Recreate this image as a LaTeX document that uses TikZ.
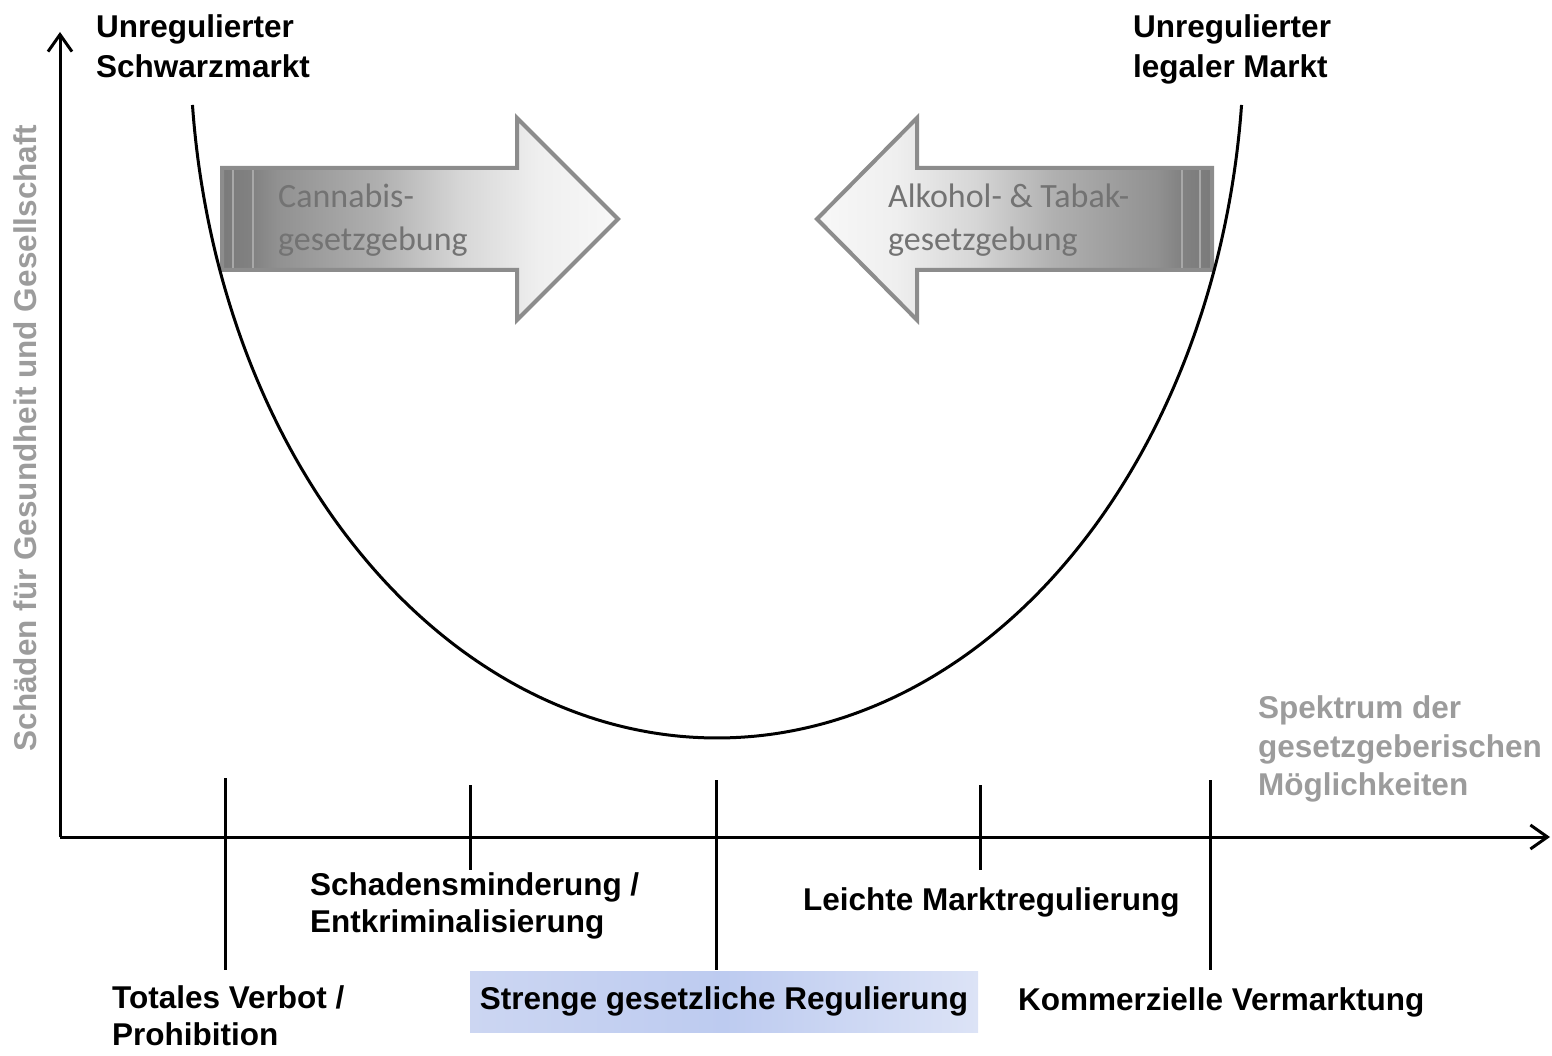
\documentclass[tikz,border=0pt]{standalone}
\usepackage{fontspec}
\setmainfont{Liberation Sans}
\newfontfamily\calib{Carlito}
\usetikzlibrary{arrows.meta}
\definecolor{arrline}{HTML}{8C8C8C}
\definecolor{arrtxt}{HTML}{737373}
\definecolor{axgray}{HTML}{9C9C9C}
\definecolor{stripe}{HTML}{A8A8A8}
\definecolor{ga}{HTML}{7A7A7A}
\definecolor{gb}{HTML}{828282}
\definecolor{gc}{HTML}{919191}
\definecolor{gd}{HTML}{B0B0B0}
\definecolor{ge}{HTML}{D6D6D6}
\definecolor{gf}{HTML}{EFEFEF}
\definecolor{gg}{HTML}{F8F8F8}
\definecolor{ba}{HTML}{CCD6F2}
\definecolor{bb}{HTML}{BDCBF0}
\definecolor{bc}{HTML}{DCE3F6}
\pgfdeclarehorizontalshading{shL}{100bp}{color(0bp)=(ga); color(25bp)=(ga); color(29bp)=(gb); color(32bp)=(gc); color(45bp)=(gd); color(55bp)=(ge); color(65bp)=(gf); color(75bp)=(gg); color(100bp)=(gg)}
\pgfdeclarehorizontalshading{shR}{100bp}{color(0bp)=(gg); color(25bp)=(gg); color(35bp)=(gf); color(45bp)=(ge); color(55bp)=(gd); color(68bp)=(gc); color(71bp)=(gb); color(75bp)=(ga); color(100bp)=(ga)}
\pgfdeclarehorizontalshading{shB}{100bp}{color(0bp)=(ba); color(25bp)=(ba); color(50bp)=(bb); color(75bp)=(bc); color(100bp)=(bc)}
\begin{document}
\begin{tikzpicture}[x=1pt,y=-1pt,
  lbl/.style={font=\fontsize{31.5}{38}\selectfont\bfseries, inner sep=0pt, anchor=base west},
  glbl/.style={lbl, text=axgray},
  atxt/.style={font=\calib\fontsize{34}{42}\selectfont, text=arrtxt, inner sep=0pt, anchor=base west},
  axis/.style={line width=3pt, -{Straight Barb[length=17pt,width=24pt]}},
  tickline/.style={line width=3pt},
  bigarrow/.style={draw=arrline, line width=4pt, line join=miter},
  stripeline/.style={draw=stripe, line width=1.5pt},
  curve/.style={line width=3pt}]

\useasboundingbox (0,0) rectangle (1552,1056);

% big arrows
\shadedraw[bigarrow, shading=shL] (222,168) -- (517,168) -- (517,118) -- (618,219) -- (517,320) -- (517,270) -- (222,270) -- cycle;
\draw[stripeline] (233,170) -- (233,268);
\draw[stripeline] (253,170) -- (253,268);
\shadedraw[bigarrow, shading=shR] (1212,168) -- (917,168) -- (917,118) -- (817,219) -- (917,320) -- (917,270) -- (1212,270) -- cycle;
\draw[stripeline] (1182,170) -- (1182,268);
\draw[stripeline] (1200,170) -- (1200,268);

\node[atxt] (can1) at (278,208) {Cannabis-};
\node[atxt] (can2) at (278,251) {gesetzgebung};
\node[atxt] (alk1) at (888,208) {Alkohol- \& Tabak-};
\node[atxt] (alk2) at (888,251) {gesetzgebung};

% axes
\coordinate (O) at (60,837);
\coordinate (ytop) at (60,32);
\coordinate (xend) at (1550,837);
\draw[axis] (O) -- (ytop);
\draw[axis] (O) -- (xend);

% ticks
\coordinate (t1a) at (225,778); \coordinate (t1b) at (225,970);
\coordinate (t2a) at (470,785); \coordinate (t2b) at (470,870);
\coordinate (t3a) at (716,780); \coordinate (t3b) at (716,970);
\coordinate (t4a) at (980,785); \coordinate (t4b) at (980,870);
\coordinate (t5a) at (1210,780); \coordinate (t5b) at (1210,970);
\draw[tickline] (t1a) -- (t1b);
\draw[tickline] (t2a) -- (t2b);
\draw[tickline] (t3a) -- (t3b);
\draw[tickline] (t4a) -- (t4b);
\draw[tickline] (t5a) -- (t5b);

% U curve
\draw[curve] plot[domain=5.49:174.51, samples=150, smooth] ({717+527*cos(\x)},{38+700*sin(\x)});

% top labels
\node[lbl] (ul1) at (96,38) {Unregulierter};
\node[lbl] (ul2) at (96,78) {Schwarzmarkt};
\node[lbl] (ur1) at (1133,38) {Unregulierter};
\node[lbl] (ur2) at (1133,78) {legaler Markt};

% axis labels
\node[glbl, rotate=90, anchor=base] (ylab) at (36,438) {Schäden für Gesundheit und Gesellschaft};
\node[glbl] (sp1) at (1258,718) {Spektrum der};
\node[glbl] (sp2) at (1258,757) {gesetzgeberischen};
\node[glbl] (sp3) at (1258,795) {Möglichkeiten};

% bottom labels
\node[lbl] (tv1) at (112,1008) {Totales Verbot /};
\node[lbl] (tv2) at (112,1045) {Prohibition};
\node[lbl] (sm1) at (310,895) {Schadensminderung /};
\node[lbl] (sm2) at (310,932) {Entkriminalisierung};
\node[lbl] (lm) at (803,910) {Leichte Marktregulierung};
\node[lbl] (kv) at (1018,1010) {Kommerzielle Vermarktung};
\node[lbl, anchor=center, shading=shB, minimum width=508pt, minimum height=61pt, text height=22pt, text depth=6.5pt] (sg) at (724,1002) {Strenge gesetzliche Regulierung};
\end{tikzpicture}
\end{document}
